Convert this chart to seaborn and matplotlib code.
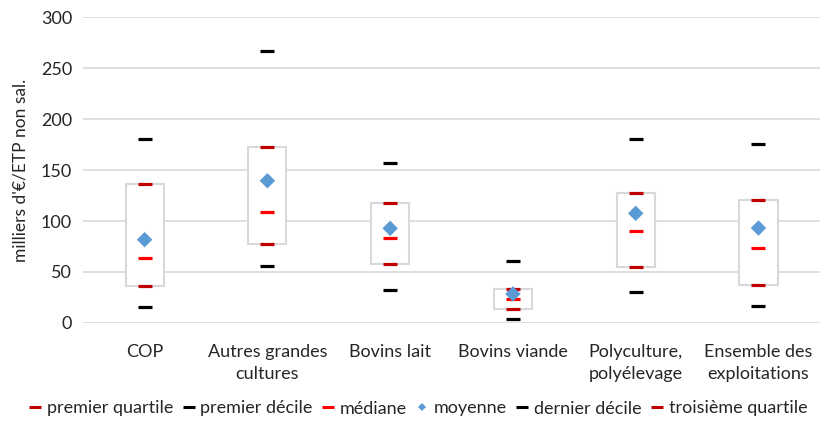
import matplotlib
matplotlib.use("Agg")
import matplotlib.pyplot as plt
from matplotlib.lines import Line2D
import seaborn as sns
import pandas as pd

categories = ["COP", "Autres grandes\ncultures", "Bovins lait", "Bovins viande",
              "Polyculture,\npolyélevage", "Ensemble des\nexploitations"]
premier_decile = [15.7, 55.9, 32.4, 3.9, 30.4, 16.7]
premier_quartile = [36.3, 77.5, 57.8, 13.7, 54.9, 37.3]
mediane = [63.7, 108.8, 83.3, 23.5, 90.2, 73.5]
moyenne = [81.7, 139.5, 92.8, 28.4, 107.5, 93.1]
troisieme_quartile = [136.3, 172.5, 117.6, 33.3, 127.5, 120.6]
dernier_decile = [180.4, 266.7, 156.9, 60.8, 180.4, 175.5]
yticks = [0, 50, 100, 150, 200, 250, 300]

sns.set_theme(style="white")
plt.rcParams["font.family"] = ["Lato", "DejaVu Sans"]
text_color = "#262626"

fig, ax = plt.subplots(figsize=(8.24, 4.30), dpi=100)
fig.subplots_adjust(left=0.101, right=0.995, top=0.96, bottom=0.249)

dark_red = "#c00000"
red = "#ff0000"
black = "#000000"
blue = "#5b9bd5"

# Interquartile boxes (white, light grey outline)
ax.bar(categories, [q3 - q1 for q1, q3 in zip(premier_quartile, troisieme_quartile)],
       bottom=premier_quartile, width=0.31, facecolor="white",
       edgecolor="#d9d9d9", linewidth=1.5, zorder=2)

series = [
    ("premier quartile", premier_quartile, dark_red),
    ("premier décile", premier_decile, black),
    ("médiane", mediane, red),
    ("dernier décile", dernier_decile, black),
    ("troisième quartile", troisieme_quartile, dark_red),
]
for name, vals, col in series:
    df = pd.DataFrame({"cat": categories, "val": vals})
    sns.scatterplot(data=df, x="cat", y="val", marker="_", s=95,
                    linewidth=2.3, color=col, ax=ax, zorder=4, legend=False)

df_mean = pd.DataFrame({"cat": categories, "val": moyenne})
sns.scatterplot(data=df_mean, x="cat", y="val", marker="D", s=62,
                color=blue, edgecolor="none", ax=ax, zorder=5, legend=False)

ax.set_xlim(-0.5, len(categories) - 0.5)
ax.set_ylim(0, 300)
ax.set_yticks(yticks)
ax.yaxis.grid(True, color="#d9d9d9", linewidth=1.2, zorder=0)
ax.set_axisbelow(True)
for sp in ax.spines.values():
    sp.set_visible(False)
ax.tick_params(axis="both", length=0, labelsize=13, colors=text_color, pad=8)
ax.tick_params(axis="x", pad=15)
ax.set_xlabel("")
ax.set_ylabel("milliers d'€/ETP non sal.", fontsize=12.5, color=text_color, labelpad=9)
for lab in ax.get_xticklabels():
    lab.set_linespacing(1.45)
    lab.set_verticalalignment("top")

handles = [
    Line2D([], [], linestyle="none", marker="_", markersize=8, markeredgewidth=2.2, color=dark_red),
    Line2D([], [], linestyle="none", marker="_", markersize=8, markeredgewidth=2.2, color=black),
    Line2D([], [], linestyle="none", marker="_", markersize=8, markeredgewidth=2.2, color=red),
    Line2D([], [], linestyle="none", marker="D", markersize=4.5, markeredgewidth=0, color=blue),
    Line2D([], [], linestyle="none", marker="_", markersize=8, markeredgewidth=2.2, color=black),
    Line2D([], [], linestyle="none", marker="_", markersize=8, markeredgewidth=2.2, color=dark_red),
]
labels = ["premier quartile", "premier décile", "médiane", "moyenne",
          "dernier décile", "troisième quartile"]
fig.legend(handles, labels, loc="center", bbox_to_anchor=(0.508, 0.05), ncol=6,
           frameon=False, fontsize=13, handlelength=0.6, handletextpad=0.35,
           columnspacing=0.55, labelcolor=text_color)

fig.savefig("out.png", dpi=100)
